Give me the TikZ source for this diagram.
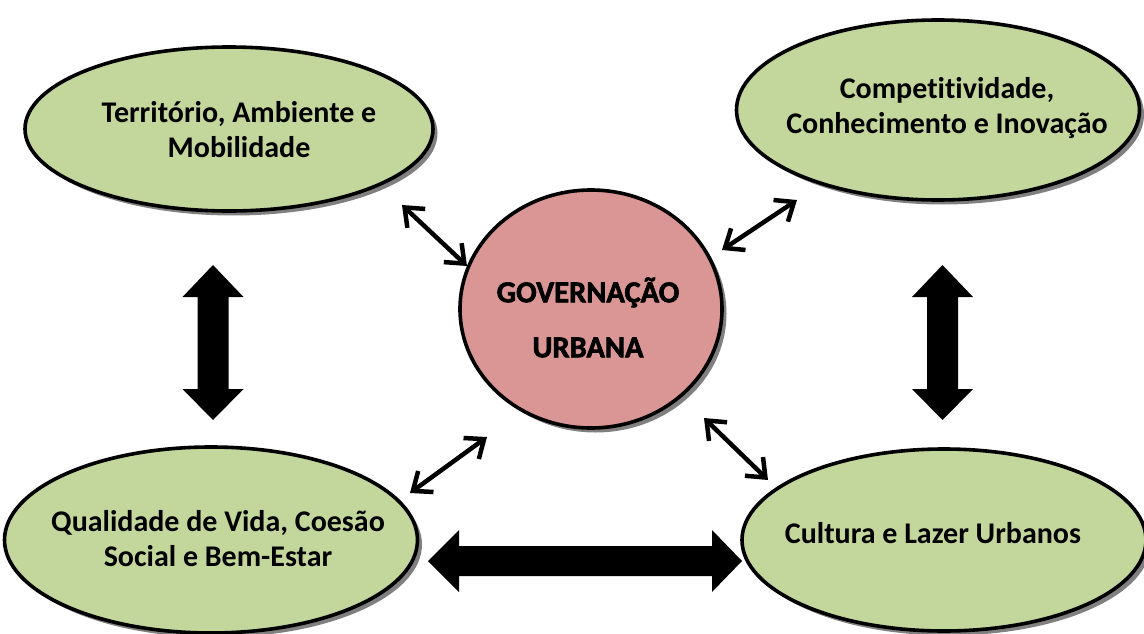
\documentclass[tikz,border=0pt]{standalone}
\usepackage{fontspec}
\setmainfont{Carlito}[Ligatures={NoCommon}]
\newfontfamily\heavyfont{Carlito}[Ligatures={NoCommon},BoldFeatures={FakeBold=2}]
\usetikzlibrary{shapes.geometric,shadows,arrows.meta}
\definecolor{topicgreen}{HTML}{C3D69B}
\definecolor{corepink}{HTML}{D99694}
\tikzset{
  bubble/.style={ellipse, draw=black, line width=3.6pt, inner sep=0pt,
    drop shadow={shadow xshift=4.5pt, shadow yshift=-4.5pt, fill=black!50, opacity=1}},
  topic/.style={bubble, fill=topicgreen},
  core/.style={bubble, fill=corepink},
  topictext/.style={align=center, font=\fontsize{30}{35}\selectfont\bfseries, inner sep=0pt},
  coretext/.style={align=center, font=\fontsize{30.5}{55}\selectfont\heavyfont\bfseries, inner sep=0pt},
  link/.style={line width=4.5pt, {Straight Barb[length=16pt,width=26pt]}-{Straight Barb[length=16pt,width=26pt]}},
  block/.style={fill=black},
  vblock/.pic={\fill[block] (0,-77.5) -- (30.5,-45.5) -- (15.5,-45.5) -- (15.5,46.5) -- (30.5,46.5) -- (0,77.5)
      -- (-30.5,46.5) -- (-15.5,46.5) -- (-15.5,-45.5) -- (-30.5,-45.5) -- cycle;},
  hblock/.pic={\fill[block] (-157,0) -- (-126,-31) -- (-126,-15) -- (127,-15) -- (127,-31) -- (157,0)
      -- (127,31) -- (127,15) -- (-126,15) -- (-126,31) -- cycle;}
}
\begin{document}
\begin{tikzpicture}[x=1pt,y=-1pt]
\useasboundingbox (0,0) rectangle (1144,634);
% bubbles
\node[topic, minimum width=408pt, minimum height=164pt] (tl) at (229,129) {};
\node[topic, minimum width=403pt, minimum height=180pt] (tr) at (938,110) {};
\node[topic, minimum width=413pt, minimum height=186pt] (bl) at (211,540) {};
\node[topic, minimum width=404pt, minimum height=182pt] (br) at (944,540) {};
\node[core, minimum width=262pt, minimum height=238pt] (c) at (591,309) {};
% texts
\node[topictext] (tlt) at (239,129.5) {Território, Ambiente e\\Mobilidade};
\node[topictext] (trt) at (947,108) {Competitividade,\\Conhecimento e Inovação};
\node[topictext] (blt) at (218,538.5) {Qualidade de Vida, Coesão\\Social e Bem-Estar};
\node[topictext] (brt) at (933,533) {Cultura e Lazer Urbanos};
\node[coretext] (ct) at (588,317.5) {GOVERNAÇÃO\\URBANA};
% thin two-way links
\coordinate (l1a) at (402,205); \coordinate (l1b) at (467,266);
\coordinate (l2a) at (797,200); \coordinate (l2b) at (722,250);
\coordinate (l3a) at (487,437); \coordinate (l3b) at (410,493);
\coordinate (l4a) at (704,418); \coordinate (l4b) at (768,480);
\draw[link] (l1a) -- (l1b);
\draw[link] (l2a) -- (l2b);
\draw[link] (l3a) -- (l3b);
\draw[link] (l4a) -- (l4b);
% block arrows
\pic at (213,342.5) {vblock};
\pic at (942.5,342.5) {vblock};
\pic at (585,561) {hblock};
\end{tikzpicture}
\end{document}
